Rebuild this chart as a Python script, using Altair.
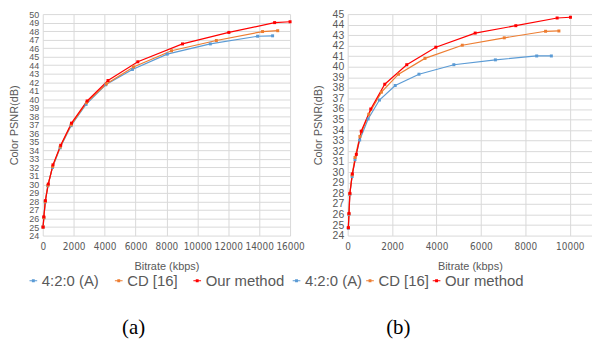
import altair as alt
import pandas as pd

methods = ["4:2:0 (A)", "CD [16]", "Our method"]
colors = ["#5b9bd5", "#ed7d31", "#ff0000"]

# Panel (a)
a_blue_x = [20, 75, 160, 325, 630, 1120, 1830, 2800, 4070, 5800, 8050, 10840, 13900, 14870]
a_blue_y = [25.0, 26.1, 27.95, 29.85, 32.0, 34.3, 36.9, 39.4, 41.7, 43.5, 45.3, 46.5, 47.4, 47.45]
a_orange_x = [20, 75, 160, 330, 640, 1130, 1840, 2830, 4110, 5870, 8330, 11230, 14220, 15200]
a_orange_y = [25.0, 26.1, 28.0, 29.9, 32.1, 34.4, 37.0, 39.6, 41.8, 43.8, 45.7, 46.9, 47.95, 48.05]
a_red_x = [20, 65, 170, 360, 660, 1160, 1860, 2870, 4220, 6150, 9040, 12040, 15000, 16000]
a_red_y = [25.0, 26.2, 28.1, 30.05, 32.3, 34.6, 37.2, 39.8, 42.2, 44.4, 46.5, 47.85, 49.0, 49.1]

# Panel (b)
b_blue_x = [30, 55, 95, 200, 330, 540, 920, 1430, 2140, 3210, 4780, 6650, 8510, 9170]
b_blue_y = [24.7, 26.0, 27.9, 29.6, 31.2, 33.06, 35.06, 36.85, 38.23, 39.3, 40.2, 40.66, 41.03, 41.03]
b_orange_x = [30, 55, 95, 200, 330, 550, 950, 1520, 2290, 3480, 5160, 7050, 8910, 9510]
b_orange_y = [24.75, 26.05, 27.95, 29.75, 31.4, 33.4, 35.5, 37.6, 39.3, 40.8, 42.05, 42.75, 43.37, 43.4]
b_red_x = [30, 60, 100, 210, 390, 610, 1040, 1670, 2660, 3970, 5740, 7570, 9430, 10030]
b_red_y = [24.75, 26.1, 28.0, 29.85, 31.7, 33.9, 36.0, 38.35, 40.2, 41.86, 43.2, 43.9, 44.63, 44.7]

a_xticks = [0, 2000, 4000, 6000, 8000, 10000, 12000, 14000, 16000]
b_xticks = [0, 2000, 4000, 6000, 8000, 10000]


def make_df(series):
    rows = []
    for name, xs, ys in series:
        for x, y in zip(xs, ys):
            rows.append({"method": name, "bitrate": x, "psnr": y})
    return pd.DataFrame(rows)


df_a = make_df([(methods[0], a_blue_x, a_blue_y),
                (methods[1], a_orange_x, a_orange_y),
                (methods[2], a_red_x, a_red_y)])
df_b = make_df([(methods[0], b_blue_x, b_blue_y),
                (methods[1], b_orange_x, b_orange_y),
                (methods[2], b_red_x, b_red_y)])

FONT = "Liberation Sans"
NARROW = "Liberation Sans Narrow, DejaVu Sans Condensed, Liberation Sans"
GRAY = "#595959"
SYMBOL = "M-1,0H1M-0.22,-0.22H0.22V0.22H-0.22Z"


def panel(df, xmax, ymax, xticks, w, legend_x, caption, cap_dx, ysize, colpad):
    color = alt.Color(
        "method:N",
        scale=alt.Scale(domain=methods, range=colors),
        legend=alt.Legend(title=None, orient="none", legendX=legend_x, legendY=261,
                          direction="horizontal", labelFontSize=15, labelFont=FONT,
                          columnPadding=colpad),
    )
    base = alt.Chart(df).encode(
        x=alt.X("bitrate:Q", scale=alt.Scale(domain=[0, xmax], nice=False),
                axis=alt.Axis(values=xticks, title="Bitrate (kbps)", labelFlush=False,
                              format="d", labelFont=NARROW, labelFontSize=10,
                              labelOverlap=False, labelPadding=6)),
        y=alt.Y("psnr:Q", scale=alt.Scale(domain=[24, ymax], nice=False, zero=False),
                axis=alt.Axis(values=list(range(24, ymax + 1)), title="Color PSNR(dB)",
                              format="d", labelOverlap=False, labelFontSize=ysize)),
        color=color,
        strokeWidth=alt.StrokeWidth("method:N", scale=alt.Scale(domain=methods, range=[1.2, 1.2, 1.7]),
                                    legend=None),
    )
    lines = base.mark_line()
    pts = base.mark_point(filled=True, shape="square", size=9, opacity=1)
    return alt.layer(lines, pts).properties(
        width=w, height=223,
        title=alt.TitleParams(caption, orient="bottom", anchor="middle", frame="group",
                              dx=cap_dx, offset=28, font="Liberation Serif", fontSize=21,
                              fontWeight="normal", color="#000000"),
    )


left = panel(df_a, 16000, 50, a_xticks, 249, -17, "(a)", -33, 9, 12)
right = panel(df_b, 11000, 45, b_xticks, 246, -59, "(b)", -72, 10.5, 0)

chart = alt.hconcat(left, right, spacing=58, bounds="flush").resolve_scale(
    color="independent", strokeWidth="independent"
).resolve_legend(color="independent").properties(padding=0).configure_view(
    stroke=None
).configure_axis(
    grid=True, gridColor="#d9d9d9", gridWidth=1, domain=False, ticks=False,
    labelFont=FONT, labelColor=GRAY, labelPadding=4,
    titleFont=FONT, titleFontSize=11, titleColor=GRAY, titleFontWeight="normal",
    titlePadding=9,
).configure_legend(
    symbolType=SYMBOL, symbolStrokeWidth=1.3, symbolSize=60,
    labelColor=GRAY, labelOffset=1, gridAlign="none",
)

chart.save("out.html", embed_options={"renderer": "svg", "actions": False})
